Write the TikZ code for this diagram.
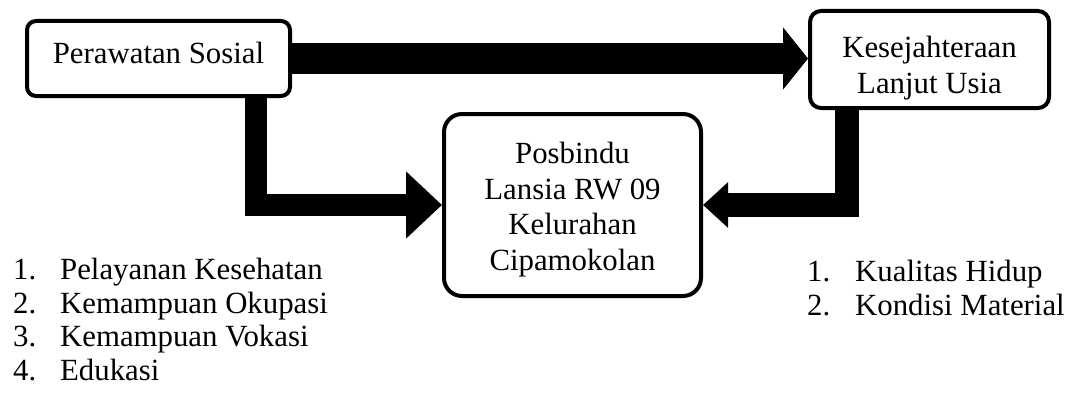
\documentclass[tikz,border=0pt]{standalone}
\usepackage{fontspec}
\setmainfont{Liberation Serif}
\usetikzlibrary{arrows.meta,calc,backgrounds}
\newcommand{\boxlines}[2]{\raisebox{#1}[0pt][0pt]{\begin{tabular}[t]{@{}c@{}}#2\end{tabular}}}
\begin{document}
\begin{tikzpicture}[x=1pt,y=-1pt,
  box/.style={draw=black,line width=4pt,fill=white,align=center,inner sep=0pt,
    font=\fontsize{30.8}{35.6}\selectfont},
  flow/.style={draw=black,line width=#1,miter limit=10},
  lst/.style={anchor=north west,inner sep=0pt,align=left,
    font=\fontsize{30.8}{33.5}\selectfont}
]
\useasboundingbox (0,0) rectangle (1073,396);
\node[box,rounded corners=9pt,minimum width=263pt,minimum height=75pt] (b1) at (158.5,58.5) {\boxlines{-5pt}{Perawatan Sosial}};
\node[box,rounded corners=11pt,minimum width=239pt,minimum height=97pt] (b2) at (929.5,59.5) {\boxlines{1.5pt}{Kesejahteraan\\Lanjut Usia}};
\node[box,rounded corners=18pt,minimum width=257pt,minimum height=182pt] (b3) at (572.5,205) {\boxlines{41.5pt}{Posbindu\\Lansia RW 09\\Kelurahan\\Cipamokolan}};
\begin{scope}[on background layer]
\draw[flow=30pt,-{Triangle[length=25pt,width=61pt]}] (b1.east) -- (b1.east -| b2.west);
\draw[flow=22pt,-{Triangle[length=36pt,width=65pt]}] ($(b1.south east)+(-36.5,-2)$) |- (b3.west);
\draw[flow=24pt,-{Triangle[length=25pt,width=44pt]}] ($(b2.south west)+(38.5,-2)$) |- (b3.east);
\end{scope}
\node[lst] (l1) at (13,258) {\makebox[47pt][l]{1.}Pelayanan Kesehatan\\\makebox[47pt][l]{2.}Kemampuan Okupasi\\\makebox[47pt][l]{3.}Kemampuan Vokasi\\\makebox[47pt][l]{4.}Edukasi};
\node[lst] (l2) at (807,260) {\makebox[48pt][l]{1.}Kualitas Hidup\\\makebox[48pt][l]{2.}Kondisi Material};
\end{tikzpicture}
\end{document}
